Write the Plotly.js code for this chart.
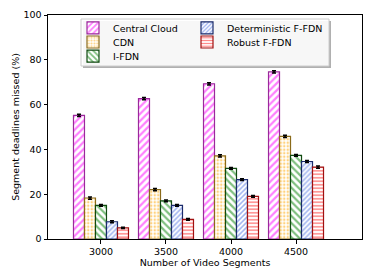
<!DOCTYPE html>
<html><head><meta charset="utf-8">
<script src="https://cdn.plot.ly/plotly-3.0.1.min.js"></script>
<style>html,body{margin:0;padding:0;background:#fff}</style>
</head><body>
<div id="chart" style="width:374px;height:280px"></div>
<script>
const categories = ["3000", "3500", "4000", "4500"];
const centralCloud = [55.2, 62.7, 69.3, 74.6];
const cdn = [18.3, 22.0, 37.1, 45.8];
const iFdn = [15.0, 17.0, 31.5, 37.3];
const detFfdn = [7.7, 15.0, 26.5, 34.6];
const robustFfdn = [5.0, 8.8, 19.0, 32.1];
const errCC = [0.5, 0.5, 0.5, 0.5];
const errCDN = [0.5, 0.5, 0.5, 0.5];
const errI = [0.4, 0.4, 0.4, 0.4];
const errDet = [0.4, 0.4, 0.4, 0.4];
const errRob = [0.3, 0.4, 0.4, 0.5];

const xIdx = categories.map((c, i) => i);
const font = {family: "DejaVu Sans", size: 9.5, color: "#000"};

function mk(name, y, err, fg, edge, shape, psize, sol, legend) {
  return {
    type: "bar", name: name, x: xIdx, y: y, legend: legend, showlegend: true,
    marker: {color: "#ffffff", line: {color: edge, width: 1.2},
      pattern: {shape: shape, fgcolor: fg, bgcolor: "#ffffff", size: psize, solidity: sol, fillmode: "overlay"}},
    error_y: {type: "data", array: err, visible: true, color: "#000", thickness: 1.5, width: 2}
  };
}
const traces = [
  mk("Central Cloud", centralCloud, errCC, "#ff00ff", "#9a2a9a", "/", 5, 0.45, "legend"),
  mk("CDN", cdn, errCDN, "#ffa500", "#8a6a1a", ".", 3.5, 0.4, "legend2"),
  mk("I-FDN", iFdn, errI, "#008000", "#104a10", "\\", 5, 0.45, "legend3"),
  mk("Deterministic F-FDN", detFfdn, errDet, "#4169e1", "#1a2a6a", "/", 3.5, 0.45, "legend4"),
  mk("Robust F-FDN", robustFfdn, errRob, "#ff0000", "#a01010", "-", 3.5, 0.4, "legend5")
];

const legendCommon = {font: font, bgcolor: "rgba(0,0,0,0)", borderwidth: 0, xanchor: "left", yanchor: "top",
  orientation: "v", itemwidth: 30, visible: true};
const lx1 = (73 - 48) / 314;
const lx2 = (187 - 48) / 314;
const r1 = (239 - 13.3) / 224, r2 = (239 - 27.5) / 224, r3 = (239 - 41.7) / 224;

const layout = {
  width: 374, height: 280,
  margin: {l: 48, r: 12, t: 15, b: 41},
  paper_bgcolor: "#fff", plot_bgcolor: "#fff",
  font: font, showlegend: true,
  barmode: "group", bargap: 0.154, bargroupgap: 0,
  xaxis: {range: [-0.815, 4.015], tickmode: "array", tickvals: xIdx, ticktext: categories,
    showline: true, linecolor: "#000", linewidth: 1, mirror: true, ticks: "outside", ticklen: 3.5, tickcolor: "#000",
    showgrid: false, zeroline: false, tickfont: font,
    title: {text: "Number of Video Segments", font: font, standoff: 3}},
  yaxis: {range: [0, 100], tickvals: [0, 20, 40, 60, 80, 100],
    showline: true, linecolor: "#000", linewidth: 1, mirror: true, ticks: "outside", ticklen: 3.5, tickcolor: "#000",
    showgrid: false, zeroline: false, tickfont: font,
    title: {text: "Segment deadlines missed (%)", font: font, standoff: 2}},
  legend: Object.assign({}, legendCommon, {x: lx1, y: r1}),
  legend2: Object.assign({}, legendCommon, {x: lx1, y: r2}),
  legend3: Object.assign({}, legendCommon, {x: lx1, y: r3}),
  legend4: Object.assign({}, legendCommon, {x: lx2, y: r1}),
  legend5: Object.assign({}, legendCommon, {x: lx2, y: r2}),
  shapes: [
    {type: "rect", xref: "paper", yref: "paper", x0: (83 - 48) / 314, x1: (331 - 48) / 314, y0: (239 - 68) / 224, y1: (239 - 21) / 224,
      line: {width: 0}, fillcolor: "#b0b0b0", layer: "above"},
    {type: "rect", xref: "paper", yref: "paper", x0: (81 - 48) / 314, x1: (329 - 48) / 314, y0: (239 - 66) / 224, y1: (239 - 19) / 224,
      line: {width: 1, color: "#cccccc"}, fillcolor: "rgba(255,255,255,0.9)", layer: "above"}
  ]
};

Plotly.newPlot("chart", traces, layout, {staticPlot: true, displayModeBar: false});
</script>
</body></html>
